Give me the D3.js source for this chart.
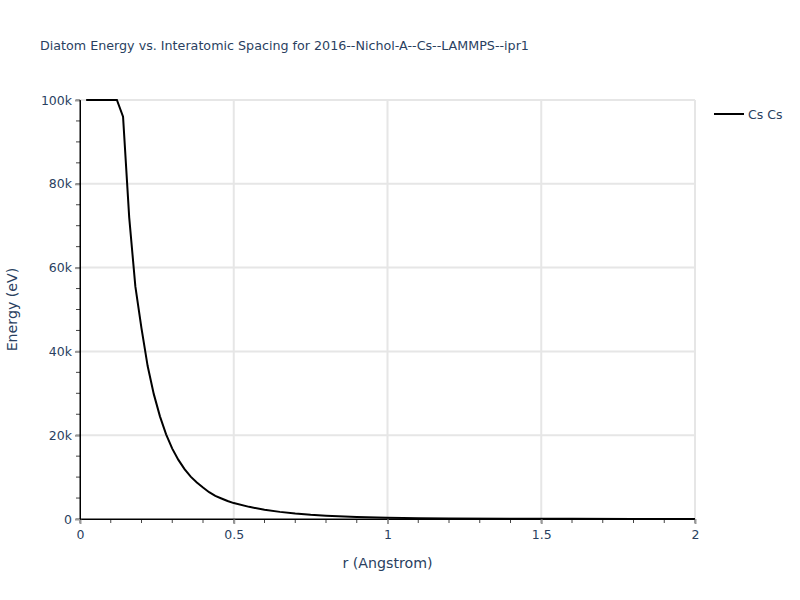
<!DOCTYPE html>
<html><head><meta charset="utf-8">
<script src="https://d3js.org/d3.v7.min.js"></script>
<style>body{margin:0;background:#fff;} svg{font-family:"DejaVu Sans",Verdana,sans-serif;}</style>
</head><body><svg id="c" width="800" height="600"></svg>
<script>
const rValues = [0.02,0.04,0.06,0.08,0.10,0.12,0.14,0.16,0.18,0.20,0.22,0.24,0.26,0.28,0.30,0.32,0.34,0.36,0.38,0.40,0.42,0.44,0.46,0.48,0.50,0.55,0.60,0.65,0.70,0.75,0.80,0.90,1.0,1.1,1.2,1.4,1.6,1.8,2.0];
const energyValues = [100000,100000,100000,100000,100000,100000,96000,72000,55500,45500,36500,29800,24500,20200,16800,14100,11900,10100,8700,7500,6400,5500,4900,4300,3800,2900,2200,1700,1300,1000,800,500,320,200,130,60,30,15,8];
const seriesName = "Cs Cs";
const xTicks = [0,0.5,1,1.5,2];
const xTickLabels = ["0","0.5","1","1.5","2"];
const yTicks = [0,20000,40000,60000,80000,100000];
const yTickLabels = ["0","20k","40k","60k","80k","100k"];
const titleText = "Diatom Energy vs. Interatomic Spacing for 2016--Nichol-A--Cs--LAMMPS--ipr1";

const FONT = '"DejaVu Sans", Verdana, sans-serif';
const svg = d3.select("#c");
const L=80,R=695,T=100,B=519;
const x = d3.scaleLinear().domain([0,2]).range([L,R]);
const y = d3.scaleLinear().domain([0,100000]).range([B,T]);
const txt="#2a3f5f";

// grid
svg.append("g").selectAll("line").data(xTicks.filter(d=>d>0)).join("line")
  .attr("x1",d=>x(d)).attr("x2",d=>x(d)).attr("y1",T).attr("y2",B)
  .attr("stroke","#e6e6e6").attr("stroke-width",2);
svg.append("g").selectAll("line").data(yTicks.filter(d=>d>0)).join("line")
  .attr("y1",d=>y(d)).attr("y2",d=>y(d)).attr("x1",L).attr("x2",R)
  .attr("stroke","#e6e6e6").attr("stroke-width",2);

// minor ticks
const xMinor = d3.range(0,2.0001,0.1);
svg.append("g").selectAll("line").data(xMinor).join("line")
  .attr("x1",d=>x(d)).attr("x2",d=>x(d)).attr("y1",B).attr("y2",B+4)
  .attr("stroke","#444").attr("stroke-width",1);
const yMinor = d3.range(0,100001,5000);
svg.append("g").selectAll("line").data(yMinor).join("line")
  .attr("y1",d=>y(d)).attr("y2",d=>y(d)).attr("x1",L-4).attr("x2",L)
  .attr("stroke","#444").attr("stroke-width",1);

// axes
const xAxis = d3.axisBottom(x).tickValues(xTicks).tickFormat((d,i)=>xTickLabels[i]).tickSize(5).tickPadding(6);
const gx = svg.append("g").attr("transform",`translate(0,${B})`).call(xAxis);
gx.select(".domain").attr("stroke","#000");
gx.selectAll(".tick line").attr("stroke","#999").attr("stroke-width",2);
gx.selectAll("text").attr("fill",txt).attr("font-size",12.5).attr("font-family",FONT);
const yAxis = d3.axisLeft(y).tickValues(yTicks).tickFormat((d,i)=>yTickLabels[i]).tickSize(5).tickPadding(3);
const gy = svg.append("g").attr("transform",`translate(${L},0)`).call(yAxis);
gy.select(".domain").attr("stroke","#000");
gy.selectAll(".tick line").attr("stroke","#999").attr("stroke-width",2);
gy.selectAll("text").attr("fill",txt).attr("font-size",12.5).attr("font-family",FONT);
svg.append("line").attr("x1",L).attr("x2",R).attr("y1",B).attr("y2",B).attr("stroke","#000");
svg.append("line").attr("x1",L).attr("x2",L).attr("y1",T).attr("y2",B).attr("stroke","#000");

// clip + line
svg.append("clipPath").attr("id","clp").append("rect").attr("x",L).attr("y",T-1).attr("width",R-L).attr("height",B-T+1);
const pts = rValues.map((r,i)=>[r,energyValues[i]]);
svg.append("path").datum(pts).attr("clip-path","url(#clp)")
  .attr("fill","none").attr("stroke","#000").attr("stroke-width",2)
  .attr("d",d3.line().x(d=>x(d[0])).y(d=>y(d[1])));

// titles
svg.append("text").attr("x",40).attr("y",50).attr("fill",txt).attr("font-size",12.7).text(titleText);
svg.append("text").attr("x",(L+R)/2).attr("y",568).attr("text-anchor","middle").attr("fill",txt).attr("font-size",14.2).text("r (Angstrom)");
svg.append("text").attr("transform",`translate(17,${(T+B)/2}) rotate(-90)`).attr("text-anchor","middle").attr("fill",txt).attr("font-size",14.2).text("Energy (eV)");

// legend
svg.append("line").attr("x1",714).attr("x2",744).attr("y1",114).attr("y2",114).attr("stroke","#000").attr("stroke-width",2);
svg.append("text").attr("x",748).attr("y",118.5).attr("fill",txt).attr("font-size",12.5).text(seriesName);
</script></body></html>
